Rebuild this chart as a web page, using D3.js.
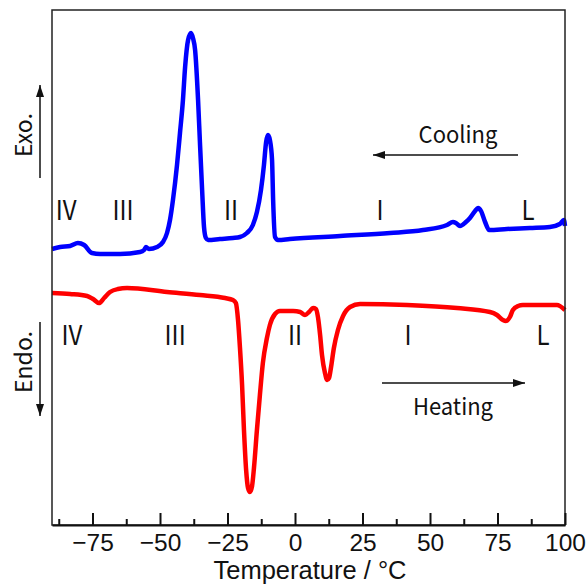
<!DOCTYPE html>
<html lang="en">
<head>
<meta charset="UTF-8">
<title>DSC</title>
<style>
  body { margin:0; background:#fff; }
  svg text { fill:#111; }
  .ann { font-family:"Noto Sans CJK JP","Noto Sans",sans-serif; }
  .tick text, .xtitle { font-family:"Liberation Sans",Arial,sans-serif; }
</style>
</head>
<body>
<script src="https://d3js.org/d3.v7.min.js"></script>
<script>
var width = 588, height = 585,
    padL = 52, padR = 565, padT = 10, padB = 525;

// cooling trace (blue), temperature in degC, signal in arbitrary units
var coolT = [-90,-87,-83.3,-80.4,-78.1,-75.2,-72.2,-64.8,-57.4,-55.9,-55.2,-54.1,-51.1,-48.9,-47.4,-46.3,-45.2,-43.7,-42.6,-41.5,-40.7,-39.6,-38.5,-37.8,-37,-35.9,-35.2,-34.4,-33.7,-33,-32.2,-27.8,-23,-20.4,-17.8,-15.6,-14.1,-12.6,-11.5,-10.7,-10,-9.3,-8.5,-8.1,-7.4,-6.3,-1.9,16.7,35.2,47.4,56.3,58.5,59.6,61.1,63.3,64.8,66.7,67.8,68.9,70.4,71.9,78.5,87,94.4,98.1,99.6,100];
var coolY = [2.04,2.12,2.16,2.28,2.2,1.88,1.84,1.84,1.92,2.0,2.12,2.04,2.12,2.32,2.68,3.2,4.0,5.4,6.68,8.0,9.32,10.4,10.68,10.48,10.0,8.0,6.28,4.4,2.92,2.48,2.4,2.44,2.48,2.52,2.68,3.0,3.52,4.4,5.4,6.32,6.6,6.4,5.6,4.0,2.52,2.4,2.44,2.56,2.68,2.8,3.0,3.12,3.08,2.96,3.12,3.28,3.56,3.68,3.56,3.12,2.8,2.84,2.88,2.92,3.04,3.2,2.96];

// heating trace (red)
var heatT = [-90,-83.3,-77,-74.8,-72.6,-70.7,-68.5,-65.6,-62.2,-47.4,-35.2,-25.9,-23,-21.9,-21.1,-20.4,-19.6,-18.9,-18.1,-17.4,-16.7,-15.9,-15.2,-14.1,-13,-11.9,-10.4,-9.3,-7.4,-5.6,-0.7,1.9,3.7,5.2,6.7,7.8,8.5,9.3,10,11.1,11.9,12.6,13.3,14.4,15.9,17.8,20.4,24.1,41.5,60,72.2,74.8,77,78.1,79.6,80.7,82.6,84.4,97,100];
var heatY = [0.28,0.24,0.16,0.04,-0.12,0.08,0.32,0.44,0.48,0.32,0.2,0.08,0.0,-0.12,-0.8,-1.88,-3.4,-5.2,-6.8,-7.52,-7.68,-7.44,-6.72,-5.2,-3.8,-2.52,-1.52,-1.0,-0.56,-0.44,-0.44,-0.48,-0.6,-0.48,-0.32,-0.36,-0.68,-1.4,-2.2,-2.92,-3.2,-3.12,-2.72,-1.92,-1.2,-0.64,-0.28,-0.16,-0.2,-0.32,-0.48,-0.6,-0.8,-0.84,-0.68,-0.4,-0.24,-0.2,-0.2,-0.4];

var majorTicks = [-75,-50,-25,0,25,50,75,100];
var minorTicks = [-87.5,-62.5,-37.5,-12.5,12.5,37.5,62.5,87.5];

var phaseNames = ['IV','III','II','I','L'];
var coolPhaseT = [-84.8,-63.7,-23.7,31.5,86.3];
var heatPhaseT = [-82.6,-44.4,0,41.9,91.9];

var xScale = d3.scaleLinear().domain([-90,100]).range([padL,padR]);
var yScale = d3.scaleLinear().domain([-9,11.6]).range([padB,padT]);

var svg = d3.select('body').append('svg')
    .attr('width', width).attr('height', height);

svg.append('defs').append('marker')
    .attr('id','ah').attr('viewBox','0 0 12 8')
    .attr('refX',12).attr('refY',4)
    .attr('markerWidth',12).attr('markerHeight',8)
    .attr('markerUnits','userSpaceOnUse')
    .attr('orient','auto')
  .append('path').attr('d','M0,0L12,4L0,8Z').attr('fill','#111');

var line = d3.line()
    .x(function(d){ return xScale(d[0]); })
    .y(function(d){ return yScale(d[1]); })
    .curve(d3.curveMonotoneX);

svg.append('path')
   .datum(d3.zip(heatT, heatY))
   .attr('fill','none').attr('stroke','#ff0000').attr('stroke-width',4.5)
   .attr('stroke-linejoin','round')
   .attr('d', line);

svg.append('path')
   .datum(d3.zip(coolT, coolY))
   .attr('fill','none').attr('stroke','#0000ff').attr('stroke-width',4.5)
   .attr('stroke-linejoin','round')
   .attr('d', line);

// frame
svg.append('rect')
   .attr('x',padL).attr('y',padT)
   .attr('width',padR-padL).attr('height',padB-padT)
   .attr('fill','none').attr('stroke','#222').attr('stroke-width',1.5);

var xAxis = d3.axisBottom(xScale).tickValues(majorTicks)
    .tickSizeInner(-12).tickSizeOuter(0).tickPadding(9);
var gx = svg.append('g')
   .attr('transform','translate(0,' + padB + ')')
   .call(xAxis);
gx.select('.domain').attr('stroke','#111').attr('stroke-width',2);
gx.selectAll('.tick line').attr('stroke','#111').attr('stroke-width',2);
gx.selectAll('.tick text').attr('font-size',24.5).attr('fill','#111');

var gm = svg.append('g')
   .attr('transform','translate(0,' + padB + ')')
   .call(d3.axisBottom(xScale).tickValues(minorTicks)
        .tickSizeInner(-6).tickSizeOuter(0).tickFormat(''));
gm.select('.domain').remove();
gm.selectAll('.tick line').attr('stroke','#111').attr('stroke-width',2);

// stretched text helper (the original lettering is a little tall)
function label(x, y, txt, size, cls, sy) {
  return svg.append('text').attr('class', cls)
    .attr('transform','translate(' + x + ',' + y + ') scale(1,' + sy + ')')
    .attr('text-anchor','middle').attr('font-size', size)
    .text(txt);
}

label(310, 579, 'Temperature / °C', 25.5, 'xtitle', 1);

// phase labels
phaseNames.forEach(function(d, i){
  label(xScale(coolPhaseT[i]), 220, d, 24, 'ann', 1.13);
  label(xScale(heatPhaseT[i]), 345, d, 24, 'ann', 1.13);
});

// Cooling / Heating arrows
svg.append('line').attr('x1',518).attr('y1',155).attr('x2',373).attr('y2',155)
   .attr('stroke','#111').attr('stroke-width',1.5).attr('marker-end','url(#ah)');
label(458, 143, 'Cooling', 22, 'ann', 1.05);

svg.append('line').attr('x1',382).attr('y1',383).attr('x2',525).attr('y2',383)
   .attr('stroke','#111').attr('stroke-width',1.5).attr('marker-end','url(#ah)');
label(453, 415, 'Heating', 22, 'ann', 1.05);

// Exo / Endo
svg.append('line').attr('x1',40).attr('y1',178).attr('x2',40).attr('y2',85)
   .attr('stroke','#111').attr('stroke-width',1.5).attr('marker-end','url(#ah)');
svg.append('text').attr('class','ann')
   .attr('transform','translate(32,135) rotate(-90)')
   .attr('text-anchor','middle').attr('font-size',23).text('Exo.');

svg.append('line').attr('x1',40).attr('y1',322).attr('x2',40).attr('y2',416)
   .attr('stroke','#111').attr('stroke-width',1.5).attr('marker-end','url(#ah)');
svg.append('text').attr('class','ann')
   .attr('transform','translate(32,362) rotate(-90)')
   .attr('text-anchor','middle').attr('font-size',23).text('Endo.');
</script>
</body>
</html>
